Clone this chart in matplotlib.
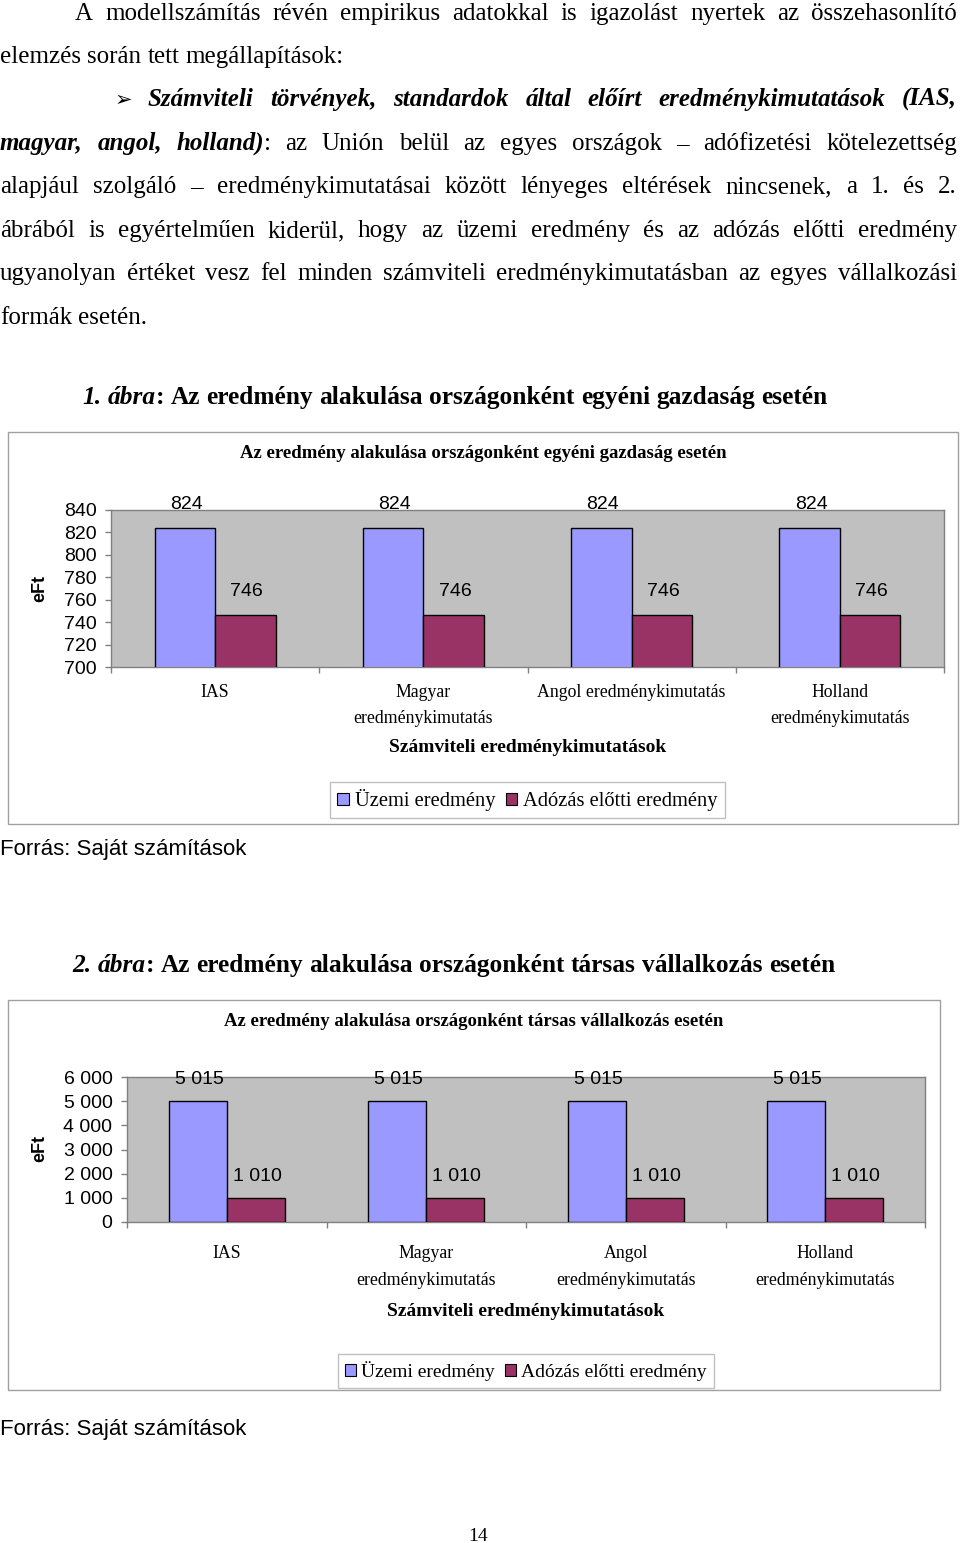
"""Page with two grouped bar charts (egyéni gazdaság / társas vállalkozás)."""

import matplotlib
matplotlib.use("Agg")
import matplotlib.pyplot as plt
import numpy as np
from matplotlib.patches import Patch, Rectangle
from matplotlib.ticker import FuncFormatter, FixedLocator

# ---- data -----------------------------------------------------------------
categories_1 = ["IAS", "Magyar\neredménykimutatás", "Angol eredménykimutatás",
                "Holland\neredménykimutatás"]
categories_2 = ["IAS", "Magyar\neredménykimutatás", "Angol\neredménykimutatás",
                "Holland\neredménykimutatás"]
series_names = ["Üzemi eredmény", "Adózás előtti eredmény"]

uzemi_1 = [824, 824, 824, 824]
adozas_1 = [746, 746, 746, 746]
yticks_1 = [700, 720, 740, 760, 780, 800, 820, 840]

uzemi_2 = [5015, 5015, 5015, 5015]
adozas_2 = [1010, 1010, 1010, 1010]
yticks_2 = [0, 1000, 2000, 3000, 4000, 5000, 6000]

title_1 = "Az eredmény alakulása országonként egyéni gazdaság esetén"
title_2 = "Az eredmény alakulása országonként társas vállalkozás esetén"
xlabel = "Számviteli eredménykimutatások"
ylabel = "eFt"
source = "Forrás: Saját számítások"

BLUE = "#9999FF"
RED = "#993366"
SERIF = "Liberation Serif"
SANS = "Liberation Sans"

W, H = 960, 1543
fig = plt.figure(figsize=(9.6, 15.43), dpi=100)
renderer = fig.canvas.get_renderer()


def fx(x):
    return x / W


def fy(y):
    return 1 - y / H


def rect(x0, y0, x1, y1):
    return [fx(x0), fy(y1), (x1 - x0) / W, (y1 - y0) / H]


def text_width(s, **kw):
    t = fig.text(0, 0, s, **kw)
    w = t.get_window_extent(renderer=renderer).width
    t.remove()
    return w


R = dict(family=SERIF, fontsize=18)
BI = dict(family=SERIF, fontsize=18, weight="bold", style="italic")
B = dict(family=SERIF, fontsize=18.25, weight="bold")
BIc = dict(family=SERIF, fontsize=18.25, weight="bold", style="italic")


def words(text, style):
    return [[(w, style)] for w in text.split()]


def draw_line(line, x0, base, x1=None, style=R):
    widths = [[text_width(p, **st) for p, st in word] for word in line]
    word_w = [sum(ws) for ws in widths]
    if x1 is None or len(line) < 2:
        gap = text_width("a a", **style) - text_width("aa", **style)
    else:
        gap = (x1 - x0 - sum(word_w)) / (len(line) - 1)
    x = x0
    for word, ws in zip(line, widths):
        for (p, st), w in zip(word, ws):
            fig.text(fx(x), fy(base), p, ha="left", va="baseline", **st)
            x += w
        x += gap


# ---- body text --------------------------------------------------------------
RIGHT = 957
draw_line(words("A modellszámítás révén empirikus adatokkal is igazolást nyertek az "
                "összehasonlító", R), 75, 20, RIGHT)
draw_line(words("elemzés során tett megállapítások:", R), 0, 63)
fig.text(fx(115), fy(106), "➢", family="DejaVu Sans", fontsize=15, va="baseline")
draw_line(words("Számviteli törvények, standardok által előírt eredménykimutatások (IAS,",
                BI), 148, 106, RIGHT)
line4 = [[("magyar,", BI)], [("angol,", BI)], [("holland)", BI), (":", R)]]
line4 += words("az Unión belül az egyes országok – adófizetési kötelezettség", R)
draw_line(line4, 0, 150, RIGHT)
draw_line(words("alapjául szolgáló – eredménykimutatásai között lényeges eltérések "
                "nincsenek, a 1. és 2.", R), 0, 193, RIGHT)
draw_line(words("ábrából is egyértelműen kiderül, hogy az üzemi eredmény és az adózás "
                "előtti eredmény", R), 0, 237, RIGHT)
draw_line(words("ugyanolyan értéket vesz fel minden számviteli eredménykimutatásban az "
                "egyes vállalkozási", R), 0, 280, RIGHT)
draw_line(words("formák esetén.", R), 0, 324)

cap1 = [[("1.", BIc)], [("ábra", BIc), (":", B)]] + words(title_1, B)
draw_line(cap1, 82, 404, style=B)
cap2 = [[("2.", BIc)], [("ábra", BIc), (":", B)]] + words(title_2, B)
draw_line(cap2, 72, 972, style=B)


# ---- charts -----------------------------------------------------------------
def thousands(v, _pos=None):
    return f"{int(v):,}".replace(",", " ")


def draw_chart(box, plot, title_y, title, cats, s1, s2, ticks, val_off,
               xpad, xls, xlabel_y, legend_xy, legend_fs, eft_y):
    fig.patches.append(Rectangle((fx(box[0]), fy(box[3])), (box[2] - box[0]) / W,
                                 (box[3] - box[1]) / H, transform=fig.transFigure,
                                 fill=False, edgecolor="#A0A0A0", linewidth=1))
    cx = (box[0] + box[2]) / 2
    fig.text(fx(cx), fy(title_y), title, family=SERIF, fontsize=13.5,
             weight="bold", ha="center", va="center")

    ax = fig.add_axes(rect(*plot))
    ax.set_facecolor("#C0C0C0")
    x = np.arange(len(cats))
    w = 0.29
    ax.bar(x - w / 2, s1, w, color=BLUE, edgecolor="black", linewidth=1, zorder=3)
    ax.bar(x + w / 2, s2, w, color=RED, edgecolor="black", linewidth=1, zorder=3)
    for xi, a, b in zip(x, s1, s2):
        ax.annotate(thousands(a), (xi - w / 2, a), xytext=(1, val_off[0]),
                    textcoords="offset points", ha="center", va="center",
                    family=SANS, fontsize=14, annotation_clip=False)
        ax.annotate(thousands(b), (xi + w / 2, b), xytext=(1, val_off[1]),
                    textcoords="offset points", ha="center", va="center",
                    family=SANS, fontsize=14, annotation_clip=False)

    ax.set_xlim(-0.5, len(cats) - 0.5)
    ax.set_ylim(ticks[0], ticks[-1])
    ax.set_yticks(ticks)
    ax.yaxis.set_major_formatter(FuncFormatter(thousands))
    ax.tick_params(axis="y", length=4, width=1, color="#808080", pad=6.5,
                   labelsize=14, labelfontfamily=SANS)
    ax.set_xticks(x)
    ax.set_xticklabels(cats, family=SERIF, fontsize=12.75, linespacing=xls)
    ax.xaxis.set_minor_locator(FixedLocator(np.arange(len(cats) + 1) - 0.5))
    ax.tick_params(axis="x", which="major", length=0, pad=xpad)
    ax.tick_params(axis="x", which="minor", length=4, width=1, color="#808080")
    for sp in ax.spines.values():
        sp.set_color("#808080")
        sp.set_linewidth(1)

    fig.text(fx((plot[0] + plot[2]) / 2), fy(xlabel_y), xlabel, family=SERIF,
             fontsize=14, weight="bold", ha="center", va="center")
    fig.text(fx(40), fy(eft_y), ylabel, family=SANS, fontsize=13, weight="bold",
             rotation=90, ha="center", va="center")

    handles = [Patch(facecolor=BLUE, edgecolor="black", linewidth=0.8),
               Patch(facecolor=RED, edgecolor="black", linewidth=0.8)]
    leg = fig.legend(handles, series_names, loc="center",
                     bbox_to_anchor=(fx(legend_xy[0]), fy(legend_xy[1])), ncol=2,
                     prop=dict(family=SERIF, size=legend_fs), fancybox=False,
                     edgecolor="#C0C0C0", framealpha=1, handlelength=0.55,
                     handleheight=0.55, handletextpad=0.3, columnspacing=0.5,
                     borderpad=0.35, borderaxespad=0)
    leg.get_frame().set_linewidth(1)
    return ax


draw_chart((8, 432, 958, 824), (111, 510, 944, 667), 454, title_1, categories_1,
           uzemi_1, adozas_1, yticks_1, (17, 17), 12.5, 1.65, 747, (527.5, 800), 14.75, 588)
draw_chart((8, 1000, 940, 1390), (127, 1077, 925, 1222), 1021, title_2, categories_2,
           uzemi_2, adozas_2, yticks_2, (15, 15), 16.5, 1.75, 1311, (526, 1371), 14, 1148)

fig.text(fx(0), fy(855), source, family=SANS, fontsize=16, va="baseline")
fig.text(fx(0), fy(1435), source, family=SANS, fontsize=16, va="baseline")
fig.text(fx(478), fy(1541), "14", family=SERIF, fontsize=14, ha="center", va="baseline")

fig.savefig("out.png", dpi=100)
